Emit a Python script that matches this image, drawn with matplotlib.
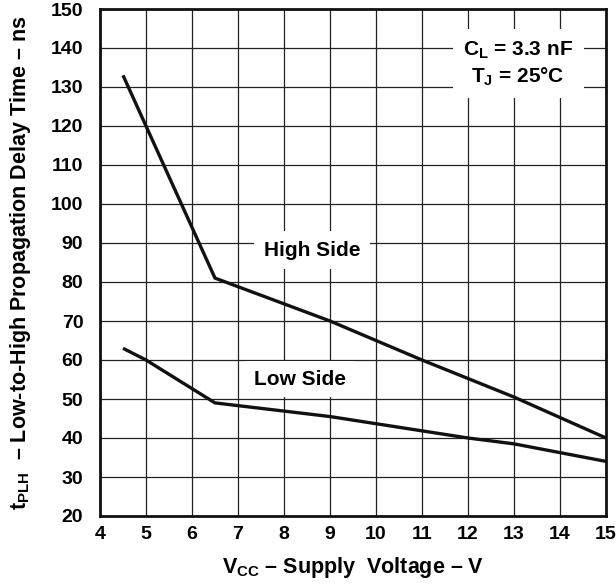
import matplotlib
matplotlib.use("Agg")
import matplotlib.pyplot as plt

plt.rcParams['font.family'] = ['Liberation Sans', 'DejaVu Sans']
plt.rcParams['mathtext.fontset'] = 'custom'
plt.rcParams['mathtext.rm'] = 'Liberation Sans:bold'
plt.rcParams['mathtext.bf'] = 'Liberation Sans:bold'
plt.rcParams['mathtext.it'] = 'Liberation Sans:bold'

# Data
high_vcc = [4.5, 6.5, 9, 11, 13, 15]
high_t = [133, 81, 70, 60, 50.5, 40]
low_vcc = [4.5, 5, 6.5, 9, 12, 13, 15]
low_t = [63, 60, 49, 45.5, 40, 38.5, 34]
x_ticks = [4, 5, 6, 7, 8, 9, 10, 11, 12, 13, 14, 15]
y_ticks = [20, 30, 40, 50, 60, 70, 80, 90, 100, 110, 120, 130, 140, 150]

fig = plt.figure(figsize=(6.16, 5.86), dpi=100)
ax = fig.add_axes([100/616, 1-516/586, 506/616, 507/586])

ax.plot(high_vcc, high_t, color='#111111', lw=2.4, solid_capstyle='butt', zorder=3)
ax.plot(low_vcc, low_t, color='#111111', lw=2.4, solid_capstyle='butt', zorder=3)

ax.set_xlim(4, 15)
ax.set_ylim(20, 150)
ax.set_xticks(x_ticks)
ax.set_yticks(y_ticks)
ax.grid(True, color='#222222', lw=0.9, zorder=1)
ax.set_axisbelow(True)
ax.tick_params(length=0, labelsize=14)
ax.tick_params(axis='x', pad=7)
ax.tick_params(axis='y', pad=12)
for lbl in ax.get_xticklabels() + ax.get_yticklabels():
    lbl.set_fontweight('bold')
for s in ax.spines.values():
    s.set_linewidth(2.0)
    s.set_color('#111111')

ax.set_xlabel(r'$\mathbf{V_{CC}}$ – Supply  Voltage – V', fontsize=15.5,
              fontweight='bold', labelpad=9)
ax.set_ylabel(r'$\mathbf{t_{PLH}}$  – Low-to-High Propagation Delay Time – ns',
              fontsize=15.5, fontweight='bold', labelpad=13)

ax.text(8.61, 88.2, 'High Side', fontsize=15, fontweight='bold',
        ha='center', va='center', zorder=2,
        bbox=dict(facecolor='white', edgecolor='none', boxstyle='square,pad=0.45'))
ax.text(8.35, 55.1, 'Low Side', fontsize=15, fontweight='bold',
        ha='center', va='center', zorder=2,
        bbox=dict(facecolor='white', edgecolor='none', boxstyle='square,pad=0.4'))
ax.text(13.09, 136.0, '$\\mathbf{C_L}$ = 3.3 nF\n$\\mathbf{T_J}$ = 25°C', fontsize=15,
        fontweight='bold', ha='center', va='center', zorder=2, linespacing=1.25,
        bbox=dict(facecolor='white', edgecolor='none', boxstyle='square,pad=0.5'))

fig.savefig('out.png', dpi=100)
